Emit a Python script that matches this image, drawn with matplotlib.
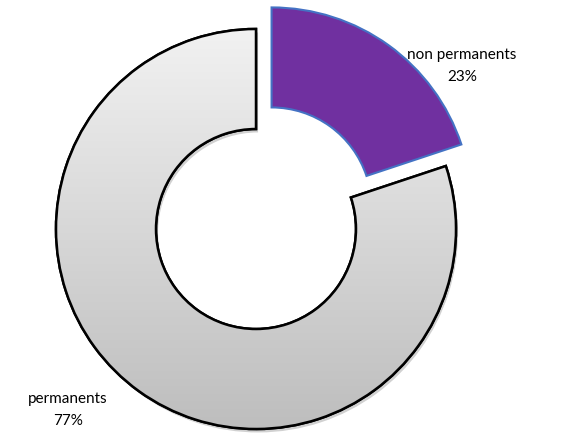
import numpy as np
import matplotlib
matplotlib.use("Agg")
from matplotlib import pyplot as plt
from matplotlib import patheffects as pe

# Data
categories = ["non permanents", "permanents"]
pct_labels = ["23%", "77%"]
wedge_shares = [19.9, 80.1]   # angular share as drawn in the picture
explode = [26.6, 0]           # pie() takes this in data units

plt.rcParams['font.family'] = ['Lato', 'DejaVu Sans']

fig = plt.figure(figsize=(5.76, 4.41), dpi=100)
ax = fig.add_axes([0, 0, 1, 1])

wedges, _ = ax.pie(wedge_shares, center=(256, 212), radius=200,
                   startangle=90, counterclock=False, explode=explode,
                   wedgeprops=dict(width=100),
                   colors=['#7030A0', '#d9d9d9'])
purple, gray = wedges
purple.set_edgecolor('#4472C4')
purple.set_linewidth(1.5)

# soft shadow under the gray ring
gray.set_path_effects([pe.SimplePatchShadow(offset=(1.5, -2.5), shadow_rgbFace='black', alpha=0.18),
                       pe.Normal()])

# gradient fill for the gray ring
grad = np.linspace(0, 1, 256).reshape(-1, 1)
cmap = matplotlib.colors.LinearSegmentedColormap.from_list('g', ['#bdbdbd', '#f2f2f2'])
img = ax.imshow(grad, extent=(50, 462, 8, 416), origin='lower', cmap=cmap,
                aspect='auto', zorder=1.5)
img.set_clip_path(gray)
gray.set_edgecolor('black')
gray.set_linewidth(1.8)
gray.set_zorder(1)

# outline drawn again on top of the gradient
outline = matplotlib.patches.Wedge(gray.center, gray.r, gray.theta1, gray.theta2,
                                   width=gray.width, fill=False, edgecolor='black',
                                   linewidth=1.8, zorder=2)
ax.add_patch(outline)

ax.text(462, 375, categories[0] + "\n" + pct_labels[0], ha='center', va='center',
        fontsize=11, linespacing=1.75)
ax.text(68, 31, categories[1] + "\n" + pct_labels[1], ha='center', va='center',
        fontsize=11, linespacing=1.75)

ax.set_xlim(0, 576)
ax.set_ylim(0, 441)
ax.set_aspect('equal')
ax.axis('off')

fig.savefig("out.png", dpi=100)
